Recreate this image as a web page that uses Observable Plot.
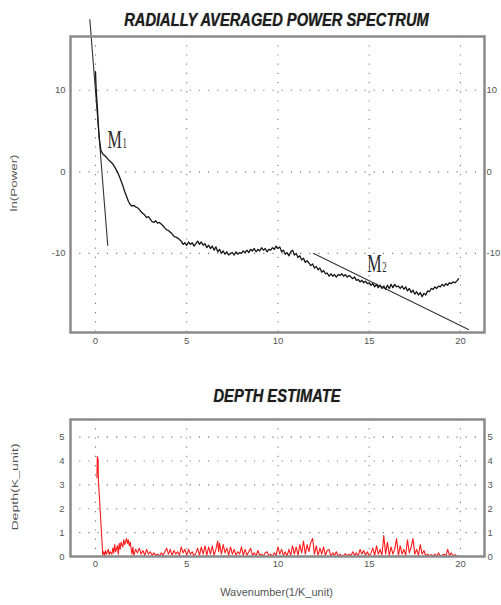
<!DOCTYPE html>
<html>
<head>
<meta charset="utf-8">
<script src="https://cdn.jsdelivr.net/npm/d3@7"></script>
<script src="https://cdn.jsdelivr.net/npm/@observablehq/plot@0.6"></script>
<style>
  body { margin: 0; background: #fff; }
  #wrap { position: relative; width: 501px; height: 605px; overflow: hidden; background: #fff; font-family: "Liberation Sans", Arial, sans-serif; }
  #wrap svg { position: absolute; left: 0; }
  .title { position: absolute; font-weight: bold; font-style: italic; color: #1c1c1c; white-space: nowrap; font-size: 14.7px; transform: translate(-50%, -50%) scaleY(1.2); text-shadow: 0 0 1px #888; }
  .ylab { position: absolute; color: #555; white-space: nowrap; transform: translate(-50%, -50%) rotate(-90deg) scaleX(1.57); }
  .xlab { position: absolute; color: #555; white-space: nowrap; font-size: 11px; transform: translate(-50%, -50%); }
</style>
</head>
<body>
<div id="wrap">
  <div class="title" style="left:276.5px; top:20px;">RADIALLY AVERAGED POWER SPECTRUM</div>
  <div class="ylab" style="left:14px; top:183px; font-size:8.5px;">ln(Power)</div>
  <div class="title" style="left:277px; top:396px;">DEPTH ESTIMATE</div>
  <div class="ylab" style="left:15px; top:487px; font-size:9px;">Depth(K_unit)</div>
  <div class="xlab" style="left:276.5px; top:592px;">Wavenumber(1/K_unit)</div>
</div>
<script>
// ---------- data ----------
const xTicks = [0, 5, 10, 15, 20];
const powerTicks = [-10, 0, 10];
const depthTicks = [0, 1, 2, 3, 4, 5];

// radially averaged power spectrum: [wavenumber, ln(Power)]
const spectrum = [
[0,12.3],[0.02,11.0],[0.05,9.6],[0.1,8.0],[0.15,6.0],[0.2,4.2],[0.3,2.6],[0.4,2.2],[0.5,2.0],[0.6,1.8],
[0.7,1.5],[0.8,1.3],[0.9,1.1],[1.0,0.8],[1.1,0.4],[1.2,0.0],[1.3,-0.5],[1.4,-1.1],[1.5,-1.7],[1.6,-2.4],
[1.7,-3.0],[1.8,-3.6],[1.9,-4.0],[2.0,-4.2],[2.1,-4.1],[2.2,-4.3],[2.3,-4.4],[2.4,-4.6],[2.5,-4.9],[2.6,-5.1],
[2.7,-5.3],[2.8,-5.6],[2.9,-5.5],[3.0,-5.8],[3.1,-6.1],[3.2,-6.2],[3.3,-6.0],[3.4,-6.3],[3.5,-6.2],[3.6,-6.4],
[3.7,-6.6],[3.8,-6.9],[3.9,-7.1],[4.0,-7.2],[4.1,-7.4],[4.2,-7.6],[4.3,-7.9],[4.4,-8.0],[4.5,-8.1],[4.6,-8.3],
[4.7,-8.5],[4.8,-8.9],[4.9,-8.7],[5.0,-9.0],[5.1,-8.6],[5.2,-8.9],[5.3,-8.7],[5.4,-9.1],[5.5,-8.8],[5.6,-8.5],
[5.7,-8.9],[5.8,-8.6],[5.9,-9.0],[6.0,-8.8],[6.1,-9.3],[6.2,-9.0],[6.3,-9.4],[6.4,-9.1],[6.5,-9.6],[6.6,-9.2],
[6.7,-9.8],[6.8,-9.5],[6.9,-10.0],[7.0,-9.7],[7.1,-10.1],[7.2,-9.8],[7.3,-10.2],[7.4,-10.0],[7.5,-9.9],[7.6,-10.2],
[7.7,-9.8],[7.8,-10.1],[7.9,-9.9],[8.0,-10.0],[8.1,-9.7],[8.2,-9.9],[8.3,-9.6],[8.4,-9.9],[8.5,-9.5],[8.6,-9.7],
[8.7,-9.4],[8.8,-9.8],[8.9,-9.5],[9.0,-9.7],[9.1,-9.3],[9.2,-9.6],[9.3,-9.4],[9.4,-9.8],[9.5,-9.5],[9.6,-9.6],
[9.7,-9.3],[9.8,-9.5],[9.9,-9.1],[10.0,-9.4],[10.1,-9.2],[10.2,-9.8],[10.3,-9.6],[10.4,-10.1],[10.5,-9.9],[10.6,-10.3],
[10.7,-9.8],[10.8,-9.6],[10.9,-10.2],[11.0,-10.0],[11.1,-10.5],[11.2,-10.3],[11.3,-10.8],[11.4,-10.6],[11.5,-11.1],[11.6,-10.9],
[11.7,-11.2],[11.8,-11.5],[11.9,-11.3],[12.0,-11.8],[12.1,-11.6],[12.2,-12.0],[12.3,-11.8],[12.4,-12.3],[12.5,-12.1],[12.6,-12.5],
[12.7,-12.4],[12.8,-12.8],[12.9,-12.5],[13.0,-12.8],[13.1,-12.6],[13.2,-12.9],[13.3,-12.6],[13.4,-12.7],[13.5,-12.5],[13.6,-12.8],
[13.7,-12.6],[13.8,-12.9],[13.9,-12.7],[14.0,-12.9],[14.1,-13.1],[14.2,-12.9],[14.3,-13.3],[14.4,-13.2],[14.5,-13.5],[14.6,-13.3],
[14.7,-13.6],[14.8,-13.4],[14.9,-13.7],[15.0,-13.6],[15.1,-13.9],[15.2,-13.7],[15.3,-14.1],[15.4,-13.8],[15.5,-14.2],[15.6,-13.9],
[15.7,-14.3],[15.8,-14.0],[15.9,-14.4],[16.0,-13.9],[16.1,-14.3],[16.2,-13.8],[16.3,-14.2],[16.4,-13.8],[16.5,-14.1],[16.6,-14.0],
[16.7,-14.3],[16.8,-14.0],[16.9,-14.4],[17.0,-14.1],[17.1,-14.6],[17.2,-14.3],[17.3,-14.8],[17.4,-14.5],[17.5,-15.0],[17.6,-14.7],
[17.7,-15.1],[17.8,-14.8],[17.9,-15.3],[18.0,-14.9],[18.1,-15.1],[18.2,-14.6],[18.3,-14.7],[18.4,-14.3],[18.5,-14.4],[18.6,-14.1],
[18.7,-14.3],[18.8,-14.0],[18.9,-14.1],[19.0,-13.8],[19.1,-14.0],[19.2,-13.7],[19.3,-13.9],[19.4,-13.6],[19.5,-13.7],[19.6,-13.5],
[19.7,-13.6],[19.8,-13.4],[19.9,-13.1]
];

// fitted slope lines
const m1Line = [[-0.31, 18.67], [0.67, -9.0]];
const m2Line = [[11.95, -10.0], [20.44, -19.33]];

// slope labels: [wavenumber, ln(Power), letter, subscript]
const slopeLabels = [[0.66, 2.9, "M", "1"], [14.9, -12.3, "M", "2"]];

// depth estimate: [wavenumber, depth]
const depth = [
[0.08,3.3],[0.1,4.2],[0.12,3.6],[0.14,4.1],[0.16,3.2],[0.4,0.05],[0.45,0.2],[0.5,0.05],[0.55,0.25],[0.6,0.1],
[0.7,0.3],[0.75,0.08],[0.8,0.2],[0.9,0.1],[0.95,0.35],[1.0,0.15],[1.05,0.5],[1.1,0.2],[1.2,0.45],[1.25,0.1],
[1.3,0.55],[1.35,0.3],[1.4,0.6],[1.5,0.4],[1.55,0.7],[1.6,0.5],[1.7,0.75],[1.75,0.55],[1.8,0.7],[1.85,0.45],
[1.9,0.6],[2.0,0.1],[2.05,0.4],[2.1,0.05],[2.2,0.3],[2.3,0.15],[2.4,0.35],[2.5,0.1],[2.6,0.25],[2.7,0.05],
[2.8,0.3],[2.9,0.1],[3.0,0.2],[3.1,0.05],[3.2,0.15],[3.3,0.05],[3.4,0.1],[3.5,0.02],[3.6,0.15],[3.7,0.05],
[3.8,0.2],[3.9,0.35],[4.0,0.1],[4.1,0.3],[4.2,0.05],[4.3,0.25],[4.4,0.1],[4.5,0.2],[4.6,0.05],[4.7,0.4],
[4.8,0.15],[4.9,0.3],[5.0,0.05],[5.1,0.3],[5.2,0.1],[5.3,0.2],[5.4,0.02],[5.5,0.15],[5.6,0.35],[5.7,0.05],
[5.8,0.4],[5.9,0.1],[6.0,0.45],[6.1,0.05],[6.2,0.4],[6.3,0.1],[6.4,0.45],[6.5,0.05],[6.6,0.3],[6.7,0.65],
[6.75,0.2],[6.8,0.55],[6.9,0.1],[7.0,0.5],[7.1,0.15],[7.2,0.35],[7.3,0.05],[7.4,0.4],[7.5,0.1],[7.6,0.3],
[7.7,0.05],[7.8,0.2],[7.9,0.1],[8.0,0.4],[8.1,0.05],[8.2,0.3],[8.3,0.05],[8.4,0.2],[8.5,0.35],[8.6,0.05],
[8.7,0.15],[8.8,0.02],[8.9,0.25],[9.0,0.05],[9.1,0.1],[9.2,0.02],[9.3,0.15],[9.4,0.2],[9.5,0.03],[9.6,0.1],
[9.7,0.02],[9.8,0.15],[9.9,0.05],[10.0,0.4],[10.1,0.1],[10.2,0.3],[10.3,0.05],[10.4,0.2],[10.5,0.02],[10.6,0.3],
[10.7,0.05],[10.8,0.45],[10.9,0.1],[11.0,0.4],[11.1,0.05],[11.2,0.5],[11.3,0.15],[11.4,0.65],[11.5,0.1],[11.6,0.5],
[11.7,0.2],[11.8,0.6],[11.9,0.75],[12.0,0.1],[12.1,0.45],[12.2,0.05],[12.3,0.35],[12.4,0.1],[12.5,0.4],[12.6,0.05],
[12.7,0.25],[12.8,0.3],[12.9,0.02],[13.0,0.15],[13.1,0.05],[13.2,0.2],[13.3,0.02],[13.4,0.1],[13.5,0.02],[13.6,0.05],
[13.7,0.12],[13.8,0.02],[13.9,0.1],[14.0,0.03],[14.1,0.2],[14.2,0.05],[14.3,0.15],[14.4,0.02],[14.5,0.3],[14.6,0.1],
[14.7,0.25],[14.8,0.05],[14.9,0.2],[15.0,0.02],[15.1,0.15],[15.2,0.35],[15.3,0.05],[15.4,0.45],[15.5,0.1],[15.6,0.3],
[15.7,0.05],[15.8,0.88],[15.9,0.1],[16.0,0.6],[16.1,0.05],[16.2,0.4],[16.3,0.1],[16.4,0.3],[16.5,0.75],[16.6,0.05],
[16.7,0.45],[16.8,0.1],[16.9,0.3],[17.0,0.05],[17.1,0.7],[17.2,0.15],[17.3,0.4],[17.4,0.75],[17.5,0.1],[17.6,0.3],
[17.7,0.05],[17.8,0.5],[17.9,0.1],[18.0,0.25],[18.1,0.02],[18.2,0.1],[18.3,0.03],[18.4,0.08],[18.5,0.02],[18.6,0.1],
[18.7,0.02],[18.8,0.15],[18.9,0.02],[19.0,0.05],[19.1,0.1],[19.2,0.02],[19.3,0.3],[19.4,0.05],[19.5,0.15],[19.6,0.02],
[19.7,0.08],[19.8,0.02],[19.9,0.03]
];

// ---------- drawing ----------
const xDomain = [-1.37, 21.32];
const gridStyle = {stroke: "#666", strokeOpacity: 0.85, strokeWidth: 1.1, strokeDasharray: "1.2,8"};
const axisStyle = {fontFamily: "Liberation Sans, Arial, sans-serif", fontSize: "9.5px", color: "#555", background: "transparent", overflow: "visible"};
const plain = d => String(d); // hyphen-minus like the reference

function squeeze(svg, sx) {
  svg.querySelectorAll('g[aria-label="text"] text').forEach(t => {
    const tr = t.getAttribute("transform");
    if (tr) t.setAttribute("transform", tr + ` scale(${sx},1)`);
    else {
      const x = +t.getAttribute("x") || 0, y = +t.getAttribute("y") || 0;
      t.setAttribute("transform", `translate(${x},${y}) scale(${sx},1) translate(${-x},${-y})`);
    }
  });
}

const topPlot = Plot.plot({
  width: 501, height: 360,
  marginLeft: 70, marginRight: 17, marginTop: 36, marginBottom: 28,
  style: axisStyle,
  x: {domain: xDomain},
  y: {domain: [-19.7, 16.6]},
  marks: [
    Plot.gridX(xTicks, gridStyle),
    Plot.gridY(powerTicks, gridStyle),
    Plot.axisX(xTicks, {tickSize: 0, tickPadding: 5, label: null, tickFormat: plain}),
    Plot.axisY(powerTicks, {anchor: "left", tickSize: 0, tickPadding: 5, label: null, tickFormat: plain}),
    Plot.axisY(powerTicks, {anchor: "right", tickSize: 0, tickPadding: 2, label: null, tickFormat: plain}),
    Plot.line(m1Line, {x: d => d[0], y: d => d[1], stroke: "#333", strokeWidth: 1.1}),
    Plot.line(m2Line, {x: d => d[0], y: d => d[1], stroke: "#333", strokeWidth: 1.1}),
    Plot.line(spectrum, {x: d => d[0], y: d => d[1], stroke: "#161616", strokeWidth: 1.3}),
    Plot.text(slopeLabels, {x: d => d[0], y: d => d[1], text: d => d[2], fontSize: 26, fontFamily: "Liberation Serif, Times New Roman, serif", textAnchor: "start", lineAnchor: "bottom", fill: "#2a2a2a"}),
    Plot.text(slopeLabels, {x: d => d[0], y: d => d[1], text: d => d[3], dx: 15, fontSize: 14, fontFamily: "Liberation Serif, Times New Roman, serif", textAnchor: "start", lineAnchor: "bottom", fill: "#2a2a2a"}),
    Plot.frame({stroke: "#8a8a8a", strokeWidth: 2.5})
  ]
});
squeeze(topPlot, 0.62);
topPlot.style.top = "0px";

const bottomPlot = Plot.plot({
  width: 501, height: 200,
  marginLeft: 70, marginRight: 17, marginTop: 14, marginBottom: 49,
  style: axisStyle,
  x: {domain: xDomain},
  y: {domain: [0, 5.74]},
  marks: [
    Plot.gridX(xTicks, gridStyle),
    Plot.gridY(depthTicks.filter(d => d > 0), gridStyle),
    Plot.axisX(xTicks, {tickSize: 0, tickPadding: 4, label: null, tickFormat: plain}),
    Plot.axisY(depthTicks, {anchor: "left", tickSize: 0, tickPadding: 6, label: null, tickFormat: plain}),
    Plot.axisY(depthTicks, {anchor: "right", tickSize: 0, tickPadding: 3, label: null, tickFormat: plain}),
    Plot.line(depth, {x: d => d[0], y: d => d[1], stroke: "#ff1a1a", strokeWidth: 1.1}),
    Plot.frame({stroke: "#8a8a8a", strokeWidth: 2.5})
  ]
});
bottomPlot.style.top = "405px";

const wrap = document.getElementById("wrap");
wrap.appendChild(topPlot);
wrap.appendChild(bottomPlot);
</script>
</body>
</html>
